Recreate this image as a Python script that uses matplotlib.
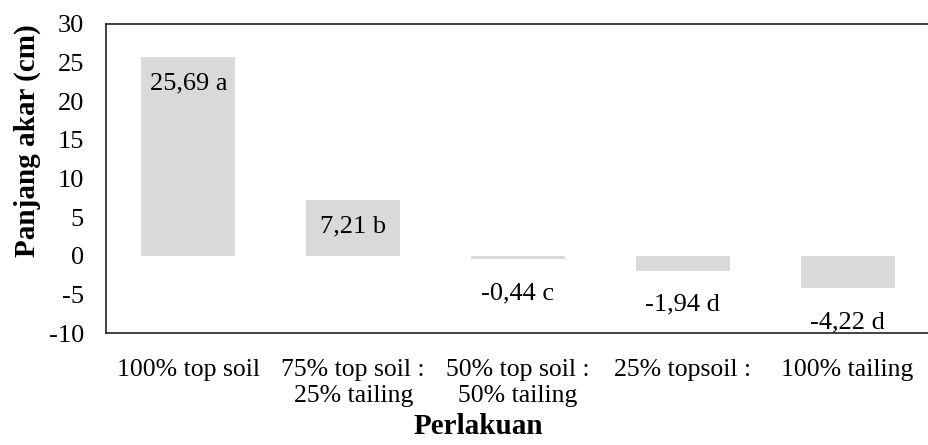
import matplotlib
matplotlib.use("Agg")
import matplotlib.pyplot as plt
import numpy as np

# data
categories = ["100% top soil", "75% top soil :\n25% tailing", "50% top soil :\n50% tailing",
              "25% topsoil :", "100% tailing"]
values = [25.69, 7.21, -0.44, -1.94, -4.22]
letters = ["a", "b", "c", "d", "d"]
yticks = [-10, -5, 0, 5, 10, 15, 20, 25, 30]

plt.rcParams["font.family"] = ["Liberation Serif", "DejaVu Serif"]

fig = plt.figure(figsize=(9.29, 4.45), dpi=100)
ax = fig.add_axes([106 / 929, 1 - 333 / 445, 824 / 929, 309 / 445])

x = np.arange(len(categories))
ax.bar(x, values, width=0.57, color="#d9d9d9")

# value labels (px -> pt at 100 dpi: *0.72)
for xi, v, l in zip(x, values, letters):
    txt = f"{v:.2f}".replace(".", ",") + " " + l
    off = -32 if v > 0 else -40
    ax.annotate(txt, (xi, v), xytext=(0, off * 0.72), textcoords="offset points",
                ha="center", va="baseline", fontsize=19, color="black")

ax.set_xlim(-0.5, len(categories) - 0.5)
ax.set_ylim(-10, 30)
ax.set_yticks(yticks)
ax.set_yticklabels([str(t) for t in yticks], fontsize=19)
ax.set_xticks(x)
ax.set_xticklabels(categories, fontsize=18.5, linespacing=1.2, va="top")
ax.tick_params(axis="y", length=0, pad=16)
ax.tick_params(axis="x", length=0, pad=19)

for s in ["top", "left", "bottom"]:
    ax.spines[s].set_color("#222222")
    ax.spines[s].set_linewidth(1.2)
ax.spines["right"].set_color("#d9d9d9")

fig.text(27 / 929, 1 - 141 / 445, "Panjang akar (cm)", rotation=90, fontsize=21,
         fontweight="bold", ha="center", va="center")
fig.text(478 / 929, 1 - 427 / 445, "Perlakuan", fontsize=21, fontweight="bold",
         ha="center", va="center")

fig.savefig("out.png", dpi=100)
